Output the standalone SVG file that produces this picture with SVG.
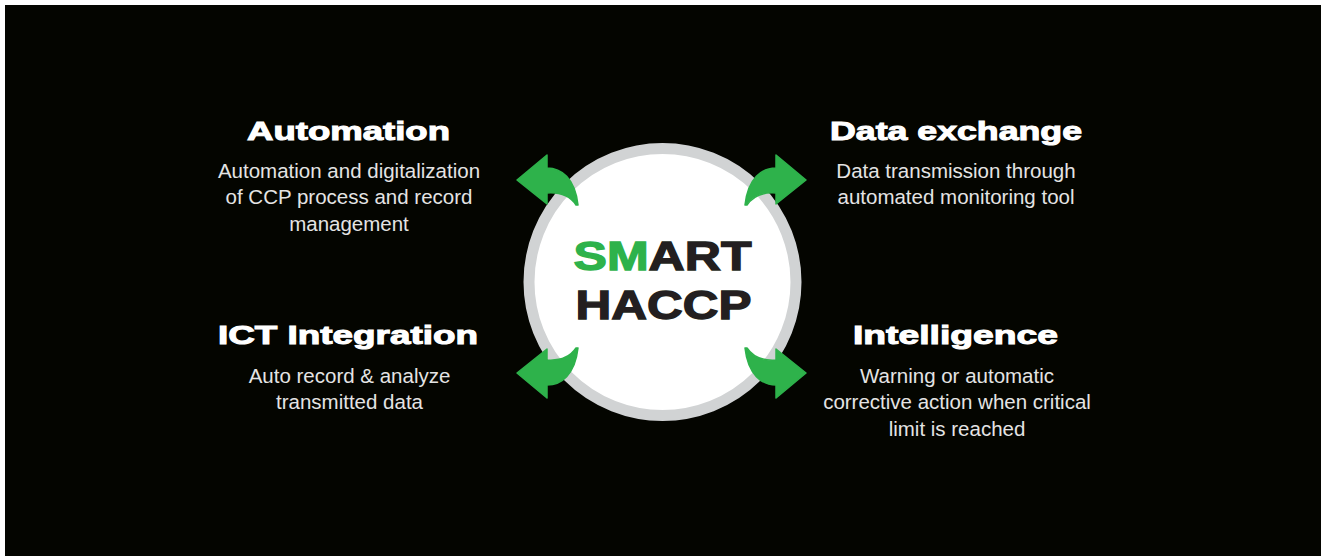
<svg xmlns="http://www.w3.org/2000/svg" width="1325" height="556" viewBox="0 0 1325 556">
<defs>
<style>
.bg{fill:#040500}
.head{font-family:"Liberation Sans",Arial,sans-serif;font-weight:bold;font-size:25px;fill:#fff;stroke:#fff;stroke-width:1;text-anchor:middle}
.body{font-family:"Liberation Sans",Arial,sans-serif;font-size:20.5px;fill:#e4e4e4;text-anchor:middle}
.logo{font-family:"Liberation Sans",Arial,sans-serif;font-weight:bold;font-size:40px;fill:#231f20;stroke:#231f20;stroke-width:1.3;text-anchor:middle}
.green{fill:#2eb24b;stroke:#2eb24b}
.arrow{fill:#2eb24b;stroke:#2eb24b;stroke-width:1.5;stroke-linejoin:round}
</style>
<path id="arr" d="M517,180 L547,155 L547,168 C561,168 575,178 578,205 L576,205 C570,196 561,192 547,193 L547,204 Z"/>
</defs>
<rect width="1325" height="556" fill="#fff"/>
<rect class="bg" x="5" y="5" width="1316" height="551"/>

<g id="hub">
<circle cx="662.5" cy="282" r="133.5" fill="#fff" stroke="#d1d3d4" stroke-width="11"/>
<text class="logo" x="662.5" y="270" textLength="178" lengthAdjust="spacingAndGlyphs"><tspan class="green">SM</tspan>ART</text>
<text class="logo" x="663.5" y="319" textLength="176" lengthAdjust="spacingAndGlyphs">HACCP</text>
</g>

<g id="connectors">
<use href="#arr" class="arrow"/>
<use href="#arr" class="arrow" transform="translate(1323,0) scale(-1,1)"/>
<use href="#arr" class="arrow" transform="translate(0,553) scale(1,-1)"/>
<use href="#arr" class="arrow" transform="translate(1323,553) scale(-1,-1)"/>
</g>

<g id="automation">
<text class="head" x="348.5" y="140" textLength="203" lengthAdjust="spacingAndGlyphs">Automation</text>
<text class="body" x="349" y="178">Automation and digitalization</text>
<text class="body" x="349" y="204">of CCP process and record</text>
<text class="body" x="349" y="231">management</text>
</g>

<g id="data-exchange">
<text class="head" x="956" y="140" textLength="252" lengthAdjust="spacingAndGlyphs">Data exchange</text>
<text class="body" x="956" y="178">Data transmission through</text>
<text class="body" x="956" y="204">automated monitoring tool</text>
</g>

<g id="ict-integration">
<text class="head" x="348" y="344" textLength="260" lengthAdjust="spacingAndGlyphs">ICT Integration</text>
<text class="body" x="349.5" y="383">Auto record &amp; analyze</text>
<text class="body" x="349.5" y="409">transmitted data</text>
</g>

<g id="intelligence">
<text class="head" x="955.5" y="344" textLength="205" lengthAdjust="spacingAndGlyphs">Intelligence</text>
<text class="body" x="957" y="383">Warning or automatic</text>
<text class="body" x="957" y="409">corrective action when critical</text>
<text class="body" x="957" y="436">limit is reached</text>
</g>
</svg>
